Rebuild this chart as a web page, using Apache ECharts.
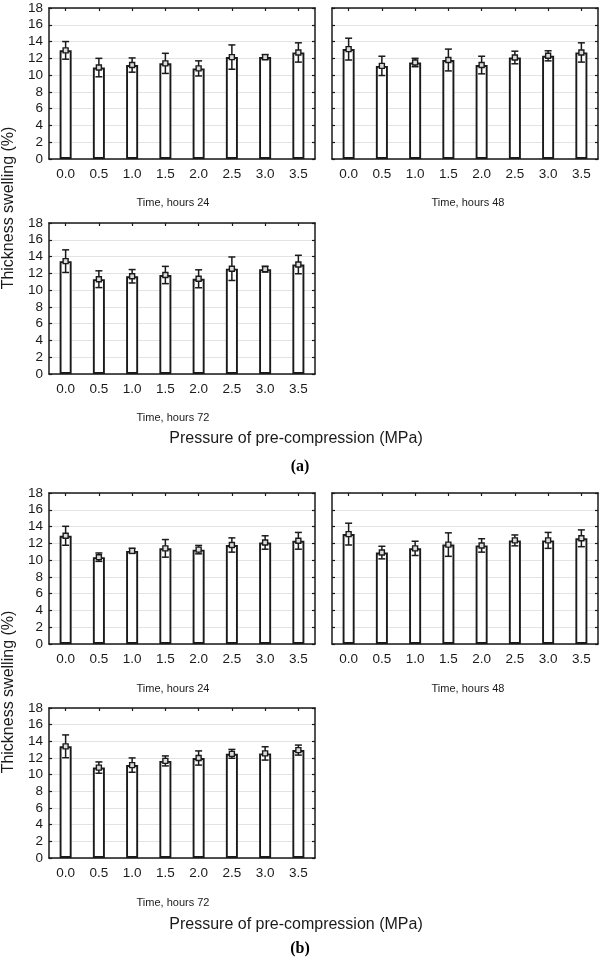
<!DOCTYPE html>
<html><head><meta charset="utf-8">
<script src="https://cdn.jsdelivr.net/npm/echarts@6/dist/echarts.min.js"></script>
<style>html,body{margin:0;padding:0;background:#fff}#c{width:600px;height:961px}</style>
</head><body><div id="c"></div>
<script>
const categories = ['0.0','0.5','1.0','1.5','2.0','2.5','3.0','3.5'];
const yTicks = [0,2,4,6,8,10,12,14,16,18];
const panelTitles = ['Time, hours 24','Time, hours 48','Time, hours 72','Time, hours 24','Time, hours 48','Time, hours 72'];
const yAxisTitle = 'Thickness swelling (%)';
const xAxisTitle = 'Pressure of pre-compression (MPa)';
const figLabels = ['(a)','(b)'];

// (a) means and half-widths of error bars
const meanA24 = [12.95, 10.9, 11.2, 11.4, 10.8, 12.15, 12.15, 12.7];
const errA24  = [1.05, 1.1, 0.85, 1.2, 0.9, 1.45, 0.3, 1.15];
const meanA48 = [13.1, 11.1, 11.5, 11.8, 11.2, 12.1, 12.3, 12.7];
const errA48  = [1.3, 1.15, 0.5, 1.3, 1.05, 0.75, 0.6, 1.15];
const meanA72 = [13.45, 11.3, 11.65, 11.8, 11.35, 12.55, 12.5, 13.05];
const errA72  = [1.35, 1.0, 0.8, 1.03, 1.07, 1.4, 0.35, 1.1];
// (b)
const meanB24 = [12.9, 10.35, 11.1, 11.4, 11.25, 11.8, 12.1, 12.3];
const errB24  = [1.13, 0.5, 0.3, 1.05, 0.5, 0.85, 0.8, 1.0];
const meanB48 = [13.1, 10.9, 11.4, 11.85, 11.75, 12.35, 12.35, 12.6];
const errB48  = [1.3, 0.75, 0.85, 1.4, 0.8, 0.65, 0.95, 1.0];
const meanB72 = [13.4, 10.85, 11.15, 11.65, 12.0, 12.5, 12.55, 12.95];
const errB72  = [1.37, 0.68, 0.86, 0.6, 0.85, 0.53, 0.8, 0.6];

const panels = [
  {mean: meanA24, err: errA24, left: 49,  top: 8,   h: 151, labels: true},
  {mean: meanA48, err: errA48, left: 332, top: 8,   h: 151, labels: false},
  {mean: meanA72, err: errA72, left: 49,  top: 223, h: 151, labels: true},
  {mean: meanB24, err: errB24, left: 49,  top: 493, h: 151, labels: true},
  {mean: meanB48, err: errB48, left: 332, top: 493, h: 151, labels: false},
  {mean: meanB72, err: errB72, left: 49,  top: 708, h: 150, labels: true}
];
const titlePos = [[173,203],[468,203],[173,418],[173,689],[468,689],[173,903]];

const FONT = 'Liberation Sans, Arial, sans-serif';
const LINE = '#1a1a1a';
const grids = [], xAxes = [], yAxes = [], series = [];
panels.forEach((p, i) => {
  grids.push({left: p.left, top: p.top, width: 266, height: p.h});
  const xBase = {type: 'category', data: categories, gridIndex: i,
    axisLine: {show: true, onZero: false, lineStyle: {color: LINE, width: 1.5}},
    axisTick: {show: true, inside: true, alignWithLabel: true, length: 3, lineStyle: {color: LINE, width: 1.2}},
    splitLine: {show: false}};
  xAxes.push(Object.assign({}, xBase, {position: 'bottom',
    axisLabel: {show: true, margin: 8, fontSize: 13.5, color: '#1a1a1a', fontFamily: FONT}}));
  xAxes.push(Object.assign({}, xBase, {position: 'top', axisLabel: {show: false}}));
  const yBase = {type: 'value', min: 0, max: 18, interval: 2, gridIndex: i,
    axisLine: {show: true, lineStyle: {color: LINE, width: 1.5}},
    axisTick: {show: true, inside: true, length: 3, lineStyle: {color: LINE, width: 1.2}}};
  yAxes.push(Object.assign({}, yBase, {position: 'left',
    axisLabel: {show: p.labels, margin: 6, fontSize: 13.5, color: '#1a1a1a', fontFamily: FONT},
    splitLine: {show: true, lineStyle: {color: '#e3e3e3', width: 1}}}));
  yAxes.push(Object.assign({}, yBase, {position: 'right', axisLabel: {show: false}, splitLine: {show: false}}));
  series.push({type: 'bar', xAxisIndex: 2*i, yAxisIndex: 2*i, data: p.mean, barWidth: 12,
    itemStyle: {color: '#ffffff', borderColor: LINE, borderWidth: 1.9}, silent: true, animation: false});
  const ebData = p.mean.map((m, k) => [k, m, m - p.err[k], m + p.err[k]]);
  series.push({type: 'custom', xAxisIndex: 2*i, yAxisIndex: 2*i, data: ebData, z: 10, animation: false,
    renderItem: function (params, api) {
      const x = api.value(0);
      const c = api.coord([x, api.value(1)]);
      const lo = api.coord([x, api.value(2)]);
      const hi = api.coord([x, api.value(3)]);
      const cap = 3.5, s = 2.5;
      const st = {stroke: LINE, lineWidth: 1.5, fill: null};
      return {type: 'group', children: [
        {type: 'line', shape: {x1: c[0], y1: lo[1], x2: c[0], y2: hi[1]}, style: st},
        {type: 'line', shape: {x1: c[0]-cap, y1: lo[1], x2: c[0]+cap, y2: lo[1]}, style: st},
        {type: 'line', shape: {x1: c[0]-cap, y1: hi[1], x2: c[0]+cap, y2: hi[1]}, style: st},
        {type: 'rect', shape: {x: c[0]-s, y: c[1]-s, width: 2*s, height: 2*s},
          style: {stroke: LINE, lineWidth: 1.4, fill: '#dcdcdc'}}
      ]};
    }});
});

const graphics = [];
titlePos.forEach((pos, i) => {
  graphics.push({type: 'text', x: pos[0], y: pos[1],
    style: {text: panelTitles[i], fontSize: 11, fontFamily: FONT, fill: '#1a1a1a', textAlign: 'center', textVerticalAlign: 'middle'}});
});
[208, 692].forEach(cy => {
  graphics.push({type: 'text', x: 9, y: cy, rotation: Math.PI / 2,
    style: {text: yAxisTitle, fontSize: 16, fontFamily: FONT, fill: '#1a1a1a', textAlign: 'center', textVerticalAlign: 'middle'}});
});
[439, 925].forEach(cy => {
  graphics.push({type: 'text', x: 296, y: cy,
    style: {text: xAxisTitle, fontSize: 16, fontFamily: FONT, fill: '#1a1a1a', textAlign: 'center', textVerticalAlign: 'middle'}});
});
[[467, 0], [949, 1]].forEach(([cy, k]) => {
  graphics.push({type: 'text', x: 300, y: cy,
    style: {text: figLabels[k], fontSize: 16, fontWeight: 'bold', fontFamily: 'Liberation Serif, Times New Roman, serif', fill: '#000', textAlign: 'center', textVerticalAlign: 'middle'}});
});

const chart = echarts.init(document.getElementById('c'), null, {renderer: 'canvas'});
chart.setOption({animation: false, backgroundColor: '#fff', grid: grids, xAxis: xAxes, yAxis: yAxes, series: series, graphic: graphics});
</script></body></html>
